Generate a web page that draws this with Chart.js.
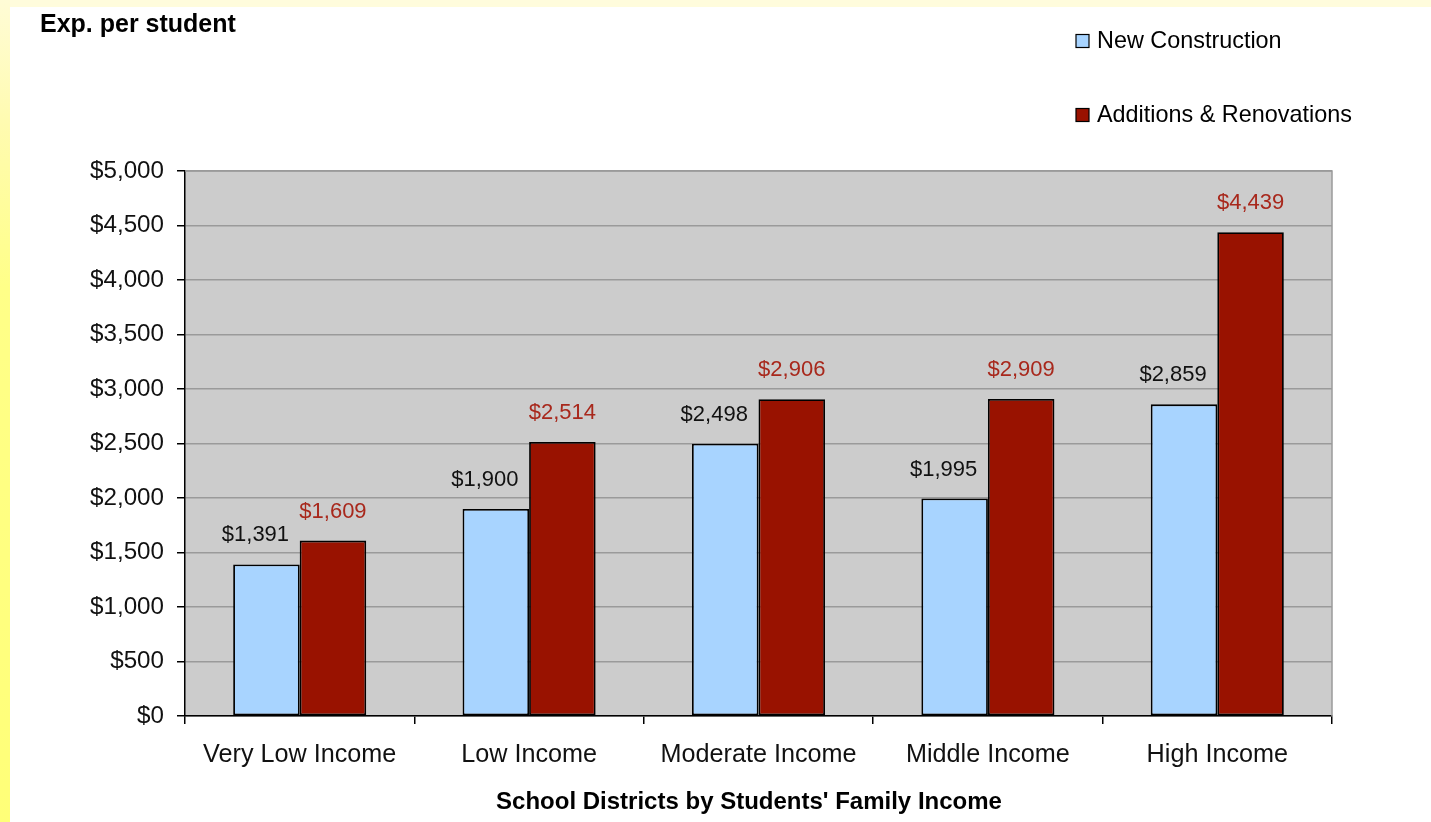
<!DOCTYPE html>
<html>
<head>
<meta charset="utf-8">
<script src="https://cdn.jsdelivr.net/npm/chart.js@4.4.1/dist/chart.umd.min.js"></script>
<style>
  html, body { margin:0; padding:0; width:1431px; height:822px; overflow:hidden; background:#ffffff; }
  #topband { position:absolute; left:0; top:0; width:1431px; height:7px; background:#fffcdc; }
  #leftband { position:absolute; left:0; top:0; width:10px; height:822px;
    background:linear-gradient(to bottom, #fffcd6 0%, #fffbb0 15%, #ffff88 35%, #ffff78 100%); }
  #wrap { position:absolute; left:0; top:0; width:1431px; height:822px; }
</style>
</head>
<body>
<div id="topband"></div>
<div id="leftband"></div>
<div id="wrap"><canvas id="c" width="1431" height="822"></canvas></div>
<script>
// ---- data ----
const categories = ['Very Low Income', 'Low Income', 'Moderate Income', 'Middle Income', 'High Income'];
const seriesNames = ['New Construction', 'Additions & Renovations'];
const newConstruction = [1391, 1900, 2498, 1995, 2859];
const additionsRenovations = [1609, 2514, 2906, 2909, 4439];
const yTickValues = [0, 500, 1000, 1500, 2000, 2500, 3000, 3500, 4000, 4500, 5000];
const yAxisTitle = 'Exp. per student';
const xAxisTitle = "School Districts by Students' Family Income";

const FONT = "'Liberation Sans', Arial, sans-serif";
const fmt = v => '$' + Number(v).toLocaleString('en-US');

const decor = {
  id: 'decor',
  beforeDraw(chart) {
    const {ctx, chartArea: a} = chart;
    ctx.save();
    ctx.fillStyle = '#cccccc';
    ctx.fillRect(a.left, a.top, a.right - a.left, a.bottom - a.top);
    ctx.restore();
  },
  beforeDatasetsDraw(chart) {
    const {ctx, chartArea: a} = chart;
    ctx.save();
    ctx.strokeStyle = '#9a9a9a';
    ctx.lineWidth = 1.5;
    ctx.beginPath();
    ctx.moveTo(a.left, a.top);
    ctx.lineTo(a.right, a.top);
    ctx.lineTo(a.right, a.bottom);
    ctx.stroke();
    ctx.restore();
  },
  afterDatasetsDraw(chart) {
    const {ctx} = chart;
    ctx.save();
    ctx.font = '22px ' + FONT;
    ctx.textAlign = 'center';
    ctx.textBaseline = 'middle';
    chart.data.datasets.forEach((ds, i) => {
      const meta = chart.getDatasetMeta(i);
      meta.data.forEach((bar, j) => {
        ctx.fillStyle = ds.labelColor;
        ctx.fillText(fmt(ds.data[j]), bar.x + ds.labelShift, bar.y - 29);
      });
    });
    ctx.restore();
  },
  afterDraw(chart) {
    const {ctx} = chart;
    ctx.save();
    ctx.fillStyle = '#000';
    ctx.textBaseline = 'middle';
    // y axis title
    ctx.font = 'bold 25px ' + FONT;
    ctx.textAlign = 'left';
    ctx.fillText(yAxisTitle, 40, 25);
    // x axis title
    ctx.font = 'bold 24px ' + FONT;
    ctx.textAlign = 'center';
    ctx.fillText(xAxisTitle, 749, 802);
    // legend
    ctx.textAlign = 'left';
    ctx.font = '23.4px ' + FONT;
    const ys = [41, 115];
    chart.data.datasets.forEach((ds, i) => {
      const y = ys[i];
      ctx.fillStyle = ds.backgroundColor;
      ctx.fillRect(1076, y - 6.5, 13, 13);
      ctx.strokeStyle = '#000';
      ctx.lineWidth = 1.2;
      ctx.strokeRect(1076, y - 6.5, 13, 13);
      ctx.fillStyle = '#000';
      ctx.fillText(ds.label, 1097, y + 1);
    });
    ctx.restore();
  }
};

new Chart(document.getElementById('c'), {
  type: 'bar',
  data: {
    labels: categories,
    datasets: [
      { label: seriesNames[0], data: newConstruction, backgroundColor: '#a8d4ff',
        borderColor: '#000', borderWidth: 1.8, borderSkipped: false,
        labelColor: '#111111', labelShift: -11 },
      { label: seriesNames[1], data: additionsRenovations, backgroundColor: '#991200',
        borderColor: '#000', borderWidth: 1.8, borderSkipped: false,
        labelColor: '#a8281c', labelShift: 0 }
    ]
  },
  options: {
    responsive: false,
    animation: false,
    devicePixelRatio: 1,
    layout: { padding: { top: 171, left: 0, right: 99, bottom: 0 } },
    plugins: { legend: { display: false }, tooltip: { enabled: false } },
    datasets: { bar: { categoryPercentage: 0.58, barPercentage: 1.0 } },
    scales: {
      x: {
        offset: true,
        grid: { display: true, drawOnChartArea: false, drawTicks: true, tickLength: 8, tickColor: '#000', lineWidth: 1.5 },
        border: { display: true, color: '#000', width: 1.5 },
        ticks: { color: '#111', font: { family: FONT, size: 25.2 }, padding: 16, maxRotation: 0 },
        title: { display: false },
        afterFit(s) { s.height = 106; }
      },
      y: {
        min: 0, max: 5000,
        afterBuildTicks(s) { s.ticks = yTickValues.map(v => ({ value: v })); },
        grid: { color: '#9a9a9a', lineWidth: 1.5, tickColor: '#000', tickLength: 8, drawTicks: true },
        border: { display: true, color: '#000', width: 1.5 },
        ticks: { color: '#111', font: { family: FONT, size: 24.2 }, padding: 13, callback: v => fmt(v) },
        afterFit(s) { s.width = 185; }
      }
    }
  },
  plugins: [decor]
});
</script>
</body>
</html>
